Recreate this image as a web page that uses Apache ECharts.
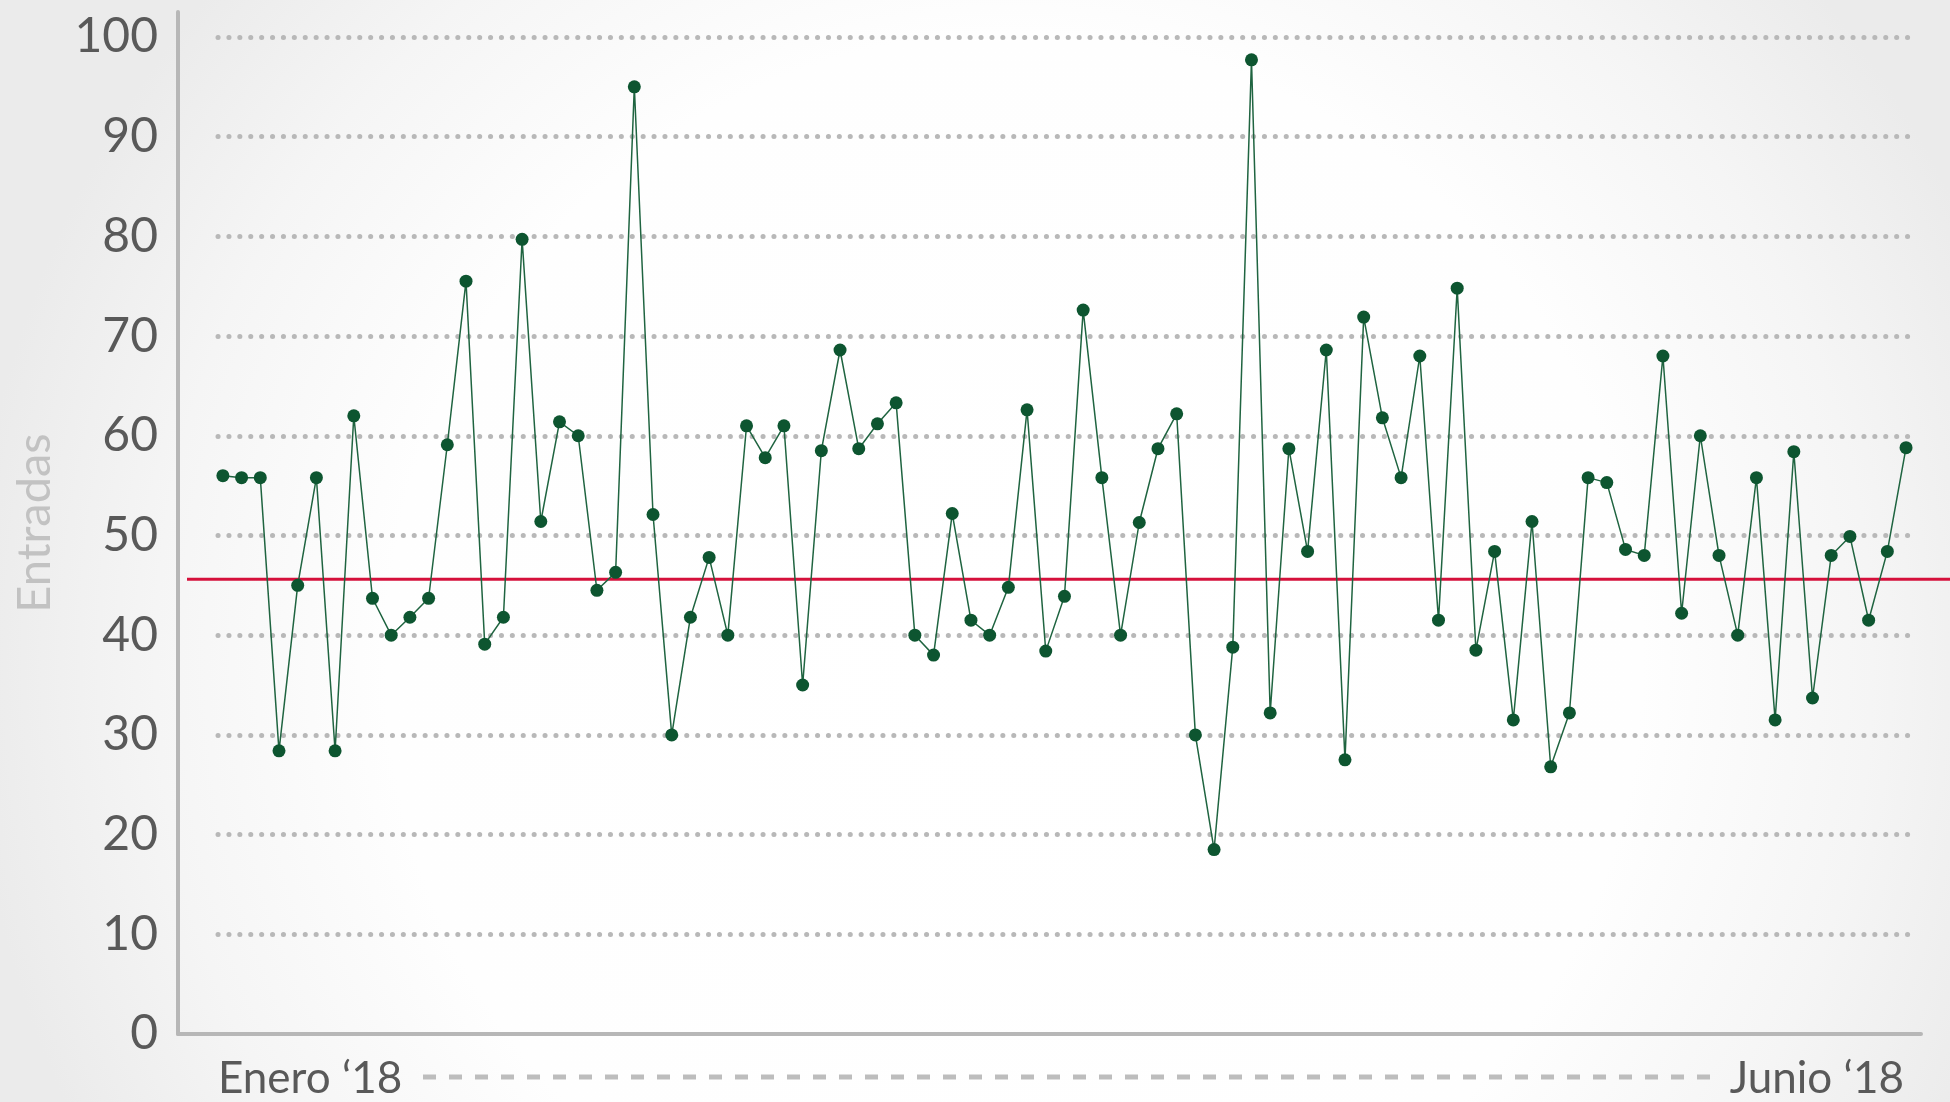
<!DOCTYPE html>
<html>
<head>
<meta charset="utf-8">
<script src="https://cdn.jsdelivr.net/npm/echarts@6/dist/echarts.min.js"></script>
<style>
html,body{margin:0;padding:0;width:1950px;height:1102px;overflow:hidden;background:#fff;}
#chart{width:1950px;height:1102px;}
</style>
</head>
<body>
<div id="chart"></div>
<script>
// ---- data ----
const entradas = [
  56.0, 55.8, 55.8, 28.4, 45.0, 55.8, 28.4, 62.0, 43.7, 40.0,
  41.8, 43.7, 59.1, 75.5, 39.1, 41.8, 79.7, 51.4, 61.4, 60.0,
  44.5, 46.3, 95.0, 52.1, 30.0, 41.8, 47.8, 40.0, 61.0, 57.8,
  61.0, 35.0, 58.5, 68.6, 58.7, 61.2, 63.3, 40.0, 38.0, 52.2,
  41.5, 40.0, 44.8, 62.6, 38.4, 43.9, 72.6, 55.8, 40.0, 51.3,
  58.7, 62.2, 30.0, 18.5, 38.8, 97.7, 32.2, 58.7, 48.4, 68.6,
  27.5, 71.9, 61.8, 55.8, 68.0, 41.5, 74.8, 38.5, 48.4, 31.5,
  51.4, 26.8, 32.2, 55.8, 55.3, 48.6, 48.0, 68.0, 42.2, 60.0,
  48.0, 40.0, 55.8, 31.5, 58.4, 33.7, 48.0, 49.9, 41.5, 48.4,
  58.8
];
const referencia = 45.6;
const startLabel = 'Enero \u201818';
const endLabel = 'Junio \u201818';
const yAxisName = 'Entradas';
const yTicks = [0, 10, 20, 30, 40, 50, 60, 70, 80, 90, 100];

// ---- chart ----
const chart = echarts.init(document.getElementById('chart'), null, {renderer: 'canvas'});
const FONT = 'Lato, "Open Sans", sans-serif';
const seriesData = entradas.map((v, i) => [i, v]);

const option = {
  animation: false,
  backgroundColor: {
    type: 'radial', x: 0.52, y: 0.6, r: 0.95,
    colorStops: [
      {offset: 0, color: '#ffffff'},
      {offset: 0.6, color: '#fefefe'},
      {offset: 0.82, color: '#f5f5f5'},
      {offset: 1, color: '#ebebeb'}
    ]
  },
  grid: [
    {left: 178, right: 29, top: 12, bottom: 68, outerBoundsMode: 'none'},   // axes + data
    {left: 218, right: 32, top: 37, bottom: 68, outerBoundsMode: 'none'},   // dotted gridlines
    {left: 187, right: 0, top: 12, bottom: 68, outerBoundsMode: 'none'}     // reference line
  ],
  xAxis: [
    {
      gridIndex: 0, type: 'value', min: -2.4, max: 90.8,
      axisLine: {show: true, onZero: false, lineStyle: {color: '#b7b7b7', width: 4}},
      axisTick: {show: false}, axisLabel: {show: false}, splitLine: {show: false}
    },
    {gridIndex: 1, type: 'value', min: 0, max: 1, show: false},
    {gridIndex: 2, type: 'value', min: 0, max: 1, show: false}
  ],
  yAxis: [
    {
      gridIndex: 0, type: 'value', min: 0, max: 102.5, interval: 10,
      name: yAxisName, nameLocation: 'middle', nameGap: 120,
      nameTextStyle: {fontSize: 47, color: '#c2c2c2', fontFamily: FONT},
      axisLine: {show: true, onZero: false, lineStyle: {color: '#b7b7b7', width: 4}},
      axisTick: {show: false},
      splitLine: {show: false},
      axisLabel: {
        margin: 20, fontSize: 48, color: '#595959', fontFamily: FONT,
        formatter: v => (yTicks.indexOf(v) >= 0 ? String(v) : '')
      }
    },
    {
      gridIndex: 1, type: 'value', min: 0, max: 100, interval: 10,
      axisLine: {show: false}, axisTick: {show: false}, axisLabel: {show: false},
      splitLine: {
        show: true, showMinLine: false,
        lineStyle: {color: '#b8b8b8', width: 5, type: [0.1, 10.8], cap: 'round'}
      }
    },
    {gridIndex: 2, type: 'value', min: 0, max: 102.5, show: false}
  ],
  series: [
    {
      type: 'line', xAxisIndex: 2, yAxisIndex: 2, z: 1,
      data: [[0, referencia], [1, referencia]],
      symbol: 'none', silent: true,
      lineStyle: {color: '#d5103b', width: 3}
    },
    {
      type: 'line', xAxisIndex: 0, yAxisIndex: 0, z: 3,
      data: seriesData,
      symbol: 'circle', symbolSize: 13,
      itemStyle: {color: '#0d5530'},
      lineStyle: {color: '#1f6440', width: 1.5}
    }
  ],
  graphic: [
    {
      type: 'text', x: 218, y: 1079, z: 10,
      style: {text: startLabel, fill: '#595959', font: '44px ' + FONT,
              textAlign: 'left', textVerticalAlign: 'middle', align: 'left', verticalAlign: 'middle'}
    },
    {
      type: 'text', x: 1904, y: 1079, z: 10,
      style: {text: endLabel, fill: '#595959', font: '44px ' + FONT,
              textAlign: 'right', textVerticalAlign: 'middle', align: 'right', verticalAlign: 'middle'}
    },
    {
      type: 'line', z: 10,
      shape: {x1: 423, y1: 1077, x2: 1716, y2: 1077},
      style: {stroke: '#bdbdbd', lineWidth: 5, lineDash: [13, 13]}
    }
  ]
};
chart.setOption(option);
</script>
</body>
</html>
